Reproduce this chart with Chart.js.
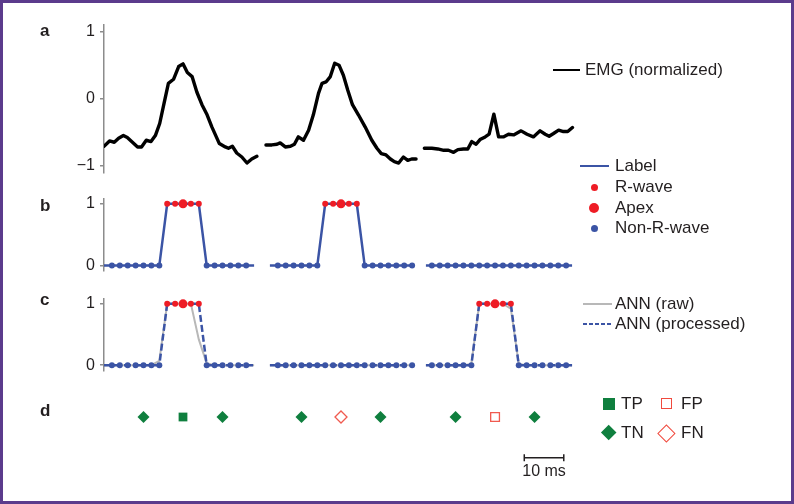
<!DOCTYPE html>
<html>
<head>
<meta charset="utf-8">
<script src="https://cdn.jsdelivr.net/npm/chart.js@4.4.0/dist/chart.umd.min.js"></script>
<style>
body { margin: 0; background: #fff; font-family: "Liberation Sans", Arial, sans-serif; color: #231f20; }
#fig { position: relative; width: 794px; height: 504px; overflow: hidden; background: #fff; }
#marco { position: absolute; left: 0; top: 0; width: 794px; height: 504px; box-sizing: border-box; border: 3px solid #5b3b8c; pointer-events: none; }
canvas { position: absolute; left: 0; }
.pl { position: absolute; left: 40px; font-weight: bold; font-size: 17px; line-height: 20px; }
.lg { position: absolute; font-size: 17px; line-height: 20px; white-space: nowrap; }
.ln { position: absolute; height: 0; }
.pt { position: absolute; border-radius: 50%; }
.sq { position: absolute; box-sizing: border-box; }
</style>
</head>
<body>
<div id="fig">
  <canvas id="panelA" width="794" height="188" style="top:0px"></canvas>
  <canvas id="panelB" width="794" height="106" style="top:180px"></canvas>
  <canvas id="panelC" width="794" height="106" style="top:280px"></canvas>
  <canvas id="panelD" width="794" height="110" style="top:380px"></canvas>

  <div class="pl" style="top:21px">a</div>
  <div class="pl" style="top:196px">b</div>
  <div class="pl" style="top:290px">c</div>
  <div class="pl" style="top:401px">d</div>

  <!-- leyendas -->
  <div class="ln" style="left:553px;width:27px;top:69px;border-top:2px solid #000"></div>
  <div class="lg" style="left:585px;top:60px">EMG (normalized)</div>

  <div class="ln" style="left:580px;width:29px;top:165px;border-top:2px solid #3b54a5"></div>
  <div class="lg" style="left:615px;top:156px">Label</div>
  <div class="pt" style="left:590.5px;top:183.5px;width:7px;height:7px;background:#ee1c25"></div>
  <div class="lg" style="left:615px;top:177px">R-wave</div>
  <div class="pt" style="left:589px;top:203px;width:10px;height:10px;background:#ee1c25"></div>
  <div class="lg" style="left:615px;top:198px">Apex</div>
  <div class="pt" style="left:590.5px;top:224.5px;width:7px;height:7px;background:#3b54a5"></div>
  <div class="lg" style="left:615px;top:218px">Non-R-wave</div>

  <div class="ln" style="left:583px;width:29px;top:303px;border-top:2px solid #b8b8b8"></div>
  <div class="lg" style="left:615px;top:294px">ANN (raw)</div>
  <div class="ln" style="left:583px;width:29px;top:323px;height:2px;background:repeating-linear-gradient(to right,#3b54a5 0 4px,transparent 4px 6px)"></div>
  <div class="lg" style="left:615px;top:314px">ANN (processed)</div>

  <div class="sq" style="left:603px;top:398px;width:12px;height:12px;background:#0f7f3e"></div>
  <div class="lg" style="left:621px;top:394px">TP</div>
  <div class="sq" style="left:661px;top:398px;width:11px;height:11px;border:1.5px solid #f04a3e"></div>
  <div class="lg" style="left:681px;top:394px">FP</div>
  <div class="sq" style="left:603.3px;top:426.8px;width:11.4px;height:11.4px;background:#0f7f3e;transform:rotate(45deg)"></div>
  <div class="lg" style="left:621px;top:423px">TN</div>
  <div class="sq" style="left:659.6px;top:426.6px;width:12.8px;height:12.8px;border:1.5px solid #f04a3e;transform:rotate(45deg)"></div>
  <div class="lg" style="left:681px;top:423px">FN</div>

  <div id="marco"></div>
</div>

<script>
// tiempo en ms, tres ventanas separadas
var X_MIN = -2, X_MAX = 118;

// a: EMG normalizado
var emgT1 = [-2, -0.6, 0.6, 1.7, 2.9, 3.9, 5.2, 6.5, 7.5, 8.7, 9.9, 11.0, 12.1, 13.2, 14.3, 15.6, 16.9, 18.0, 19.1, 20.3, 21.5, 22.8, 24.1, 25.3, 27.2, 28.7, 29.5, 30.5, 31.6, 32.9, 34.2, 35.4, 36.7];
var emgV1 = [-0.71, -0.63, -0.65, -0.59, -0.55, -0.58, -0.65, -0.72, -0.72, -0.62, -0.64, -0.55, -0.37, -0.07, 0.23, 0.29, 0.48, 0.52, 0.39, 0.33, 0.10, -0.09, -0.24, -0.42, -0.67, -0.72, -0.74, -0.71, -0.81, -0.87, -0.96, -0.90, -0.86];
var emgT2 = [39.0, 40.5, 41.8, 42.6, 43.9, 45.2, 46.2, 47.2, 48.5, 49.8, 51.0, 52.3, 53.2, 54.2, 55.3, 56.4, 57.5, 58.6, 59.7, 60.9, 62.4, 64.1, 65.8, 67.1, 68.2, 69.4, 70.5, 71.5, 72.6, 73.8, 74.9, 75.9, 77.0];
var emgV2 = [-0.69, -0.69, -0.68, -0.66, -0.72, -0.71, -0.68, -0.57, -0.62, -0.47, -0.24, 0.08, 0.23, 0.25, 0.33, 0.53, 0.50, 0.35, 0.13, -0.09, -0.24, -0.42, -0.62, -0.74, -0.82, -0.84, -0.90, -0.94, -0.96, -0.87, -0.92, -0.90, -0.90];
var emgT3 = [79.1, 81.0, 82.5, 84.0, 85.2, 86.5, 87.6, 89.0, 90.1, 91.1, 92.2, 93.2, 94.5, 95.5, 96.7, 97.9, 99.1, 100.4, 101.7, 103.6, 105.1, 106.7, 108.4, 109.7, 110.7, 111.8, 113.1, 114.3, 115.4, 116.6];
var emgV3 = [-0.74, -0.74, -0.75, -0.77, -0.77, -0.80, -0.76, -0.75, -0.75, -0.64, -0.68, -0.61, -0.57, -0.53, -0.23, -0.57, -0.57, -0.53, -0.54, -0.48, -0.53, -0.57, -0.48, -0.53, -0.56, -0.52, -0.47, -0.49, -0.49, -0.43];

// muestras (cada 2 ms) de cada ventana
var muestrasT1 = [0, 2, 4, 6, 8, 10, 12, 14, 16, 18, 20, 22, 24, 26, 28, 30, 32, 34];
var muestrasT2 = [42, 44, 46, 48, 50, 52, 54, 56, 58, 60, 62, 64, 66, 68, 70, 72, 74, 76];
var muestrasT3 = [81, 83, 85, 87, 89, 91, 93, 95, 97, 99, 101, 103, 105, 107, 109, 111, 113, 115];
var bordes = [[-2, 36], [40, 76], [79.5, 116.5]];

// b: etiqueta
var label1 = [0, 0, 0, 0, 0, 0, 0, 1, 1, 1, 1, 1, 0, 0, 0, 0, 0, 0];
var label2 = [0, 0, 0, 0, 0, 0, 1, 1, 1, 1, 1, 0, 0, 0, 0, 0, 0, 0];
var label3 = [0, 0, 0, 0, 0, 0, 0, 0, 0, 0, 0, 0, 0, 0, 0, 0, 0, 0];
var apexLabel = [9, 8, -1];

// c: red neuronal
var annRaw1 = [0, 0, 0, 0, 0, 0, 0.07, 1, 1, 1, 1, 0.42, 0.03, 0, 0, 0, 0, 0];
var annRaw2 = [0, 0, 0, 0, 0, 0, 0, 0, 0, 0, 0, 0, 0, 0, 0, 0, 0, 0];
var annRaw3 = [0, 0, 0, 0, 0, 0.02, 1, 1, 1, 1, 0.92, 0.02, 0, 0, 0, 0, 0, 0];
var annProc1 = [0, 0, 0, 0, 0, 0, 0, 1, 1, 1, 1, 1, 0, 0, 0, 0, 0, 0];
var annProc2 = [0, 0, 0, 0, 0, 0, 0, 0, 0, 0, 0, 0, 0, 0, 0, 0, 0, 0];
var annProc3 = [0, 0, 0, 0, 0, 0, 1, 1, 1, 1, 1, 0, 0, 0, 0, 0, 0, 0];
var apexAnn = [9, -1, 8];

// d: resultado
var resultadoT = [8, 18, 28, 48, 58, 68, 87, 97, 107];
var resultadoTipo = ['TN', 'TP', 'TN', 'TN', 'FN', 'TN', 'TN', 'FP', 'TN'];
var barraInicio = 104.4, barraLargo = 10;

var AZUL = '#3b54a5', ROJO = '#ee1c25', GRIS = '#b8b8b8', VERDE = '#0f7f3e', SALMON = '#f05a4f';
var FUENTE = '"Liberation Sans", Arial, sans-serif';

function unirVentanas(listaT, listaV) {
    var datos = [];
    for (var s = 0; s < listaT.length; s++) {
        for (var i = 0; i < listaT[s].length; i++) {
            datos.push({ x: listaT[s][i], y: listaV[s][i] });
        }
        datos.push({ x: listaT[s][listaT[s].length - 1] + 0.5, y: null });
    }
    return datos;
}

function armarMuestras(listaV, apices) {
    var tiempos = [muestrasT1, muestrasT2, muestrasT3];
    var datos = [];
    for (var s = 0; s < 3; s++) {
        var v = listaV[s];
        datos.push({ x: bordes[s][0], y: v[0], tipo: 'borde' });
        for (var i = 0; i < v.length; i++) {
            var tipo = i === apices[s] ? 'apex' : (v[i] >= 0.5 ? 'r' : 'n');
            datos.push({ x: tiempos[s][i], y: v[i], tipo: tipo });
        }
        datos.push({ x: bordes[s][1], y: v[v.length - 1], tipo: 'borde' });
        datos.push({ x: bordes[s][1] + 0.5, y: null });
    }
    return datos;
}

function radioPunto(ctx) {
    var k = ctx.raw && ctx.raw.tipo;
    if (k === 'apex') return 4.5;
    if (k === 'r' || k === 'n') return 3;
    return 0;
}

function colorPunto(ctx) {
    var k = ctx.raw && ctx.raw.tipo;
    return (k === 'apex' || k === 'r') ? ROJO : AZUL;
}

// el eje y ocupa 104 px para que x quede alineado en todos los paneles
function opcionesPanel(yMin, yMax, yTicks, padTop, padBottom) {
    return {
        responsive: false,
        animation: false,
        layout: { padding: { left: 0, right: 216, top: padTop, bottom: padBottom } },
        plugins: { legend: { display: false }, tooltip: { enabled: false } },
        scales: {
            x: { type: 'linear', min: X_MIN, max: X_MAX, display: false },
            y: {
                min: yMin, max: yMax,
                afterFit: function (s) { s.width = 104; },
                afterBuildTicks: function (s) { s.ticks = yTicks.map(function (v) { return { value: v }; }); },
                grid: { drawOnChartArea: false, drawTicks: true, tickLength: 4, color: '#8c8c8c', lineWidth: 1.5 },
                border: { color: '#8c8c8c', width: 1.5 },
                ticks: {
                    padding: 5, color: '#231f20',
                    font: { family: FUENTE, size: 16 },
                    callback: function (v) { return v < 0 ? '\u2212' + Math.abs(v) : String(v); }
                }
            }
        }
    };
}

// panel a
new Chart(document.getElementById('panelA'), {
    type: 'line',
    data: {
        datasets: [{
            data: unirVentanas([emgT1, emgT2, emgT3], [emgV1, emgV2, emgV3]),
            borderColor: '#000', borderWidth: 3.4, pointRadius: 0,
            borderJoinStyle: 'round', borderCapStyle: 'round',
            spanGaps: false, tension: 0
        }]
    },
    options: opcionesPanel(-1.1, 1.1, [-1, 0, 1], 25, 15.6)
});

// panel b
new Chart(document.getElementById('panelB'), {
    type: 'line',
    data: {
        datasets: [{
            data: armarMuestras([label1, label2, label3], apexLabel),
            borderColor: AZUL, borderWidth: 2.5,
            pointRadius: radioPunto, pointBackgroundColor: colorPunto, pointBorderWidth: 0,
            spanGaps: false, tension: 0
        }]
    },
    options: opcionesPanel(-0.08, 1.09, [0, 1], 18.3, 15.5)
});

// panel c
new Chart(document.getElementById('panelC'), {
    type: 'line',
    data: {
        datasets: [{
            data: armarMuestras([annProc1, annProc2, annProc3], apexAnn),
            borderColor: AZUL, borderWidth: 2.5, borderDash: [7, 3],
            pointRadius: radioPunto, pointBackgroundColor: colorPunto, pointBorderWidth: 0,
            spanGaps: false, tension: 0, order: 1
        }, {
            data: armarMuestras([annRaw1, annRaw2, annRaw3], [-1, -1, -1]),
            borderColor: GRIS, borderWidth: 2, pointRadius: 0,
            spanGaps: false, tension: 0, order: 2
        }]
    },
    options: opcionesPanel(-0.09, 1.09, [0, 1], 18.3, 15.3)
});

// panel d con barra de escala
var barraEscala = {
    id: 'barraEscala',
    afterDraw: function (chart) {
        var ctx = chart.ctx, xs = chart.scales.x;
        var x0 = xs.getPixelForValue(barraInicio), x1 = xs.getPixelForValue(barraInicio + barraLargo);
        var y = 77.7;
        ctx.save();
        ctx.strokeStyle = '#231f20';
        ctx.lineWidth = 1.5;
        ctx.beginPath();
        ctx.moveTo(x0, y); ctx.lineTo(x1, y);
        ctx.moveTo(x0, y - 3.5); ctx.lineTo(x0, y + 3.5);
        ctx.moveTo(x1, y - 3.5); ctx.lineTo(x1, y + 3.5);
        ctx.stroke();
        ctx.fillStyle = '#231f20';
        ctx.font = '16px ' + FUENTE;
        ctx.textAlign = 'center';
        ctx.textBaseline = 'top';
        ctx.fillText('10 ms', (x0 + x1) / 2, y + 6);
        ctx.restore();
    }
};

new Chart(document.getElementById('panelD'), {
    type: 'scatter',
    data: {
        datasets: [{
            data: resultadoT.map(function (t, i) { return { x: t, y: 0.5, tipo: resultadoTipo[i] }; }),
            pointStyle: function (ctx) { var k = ctx.raw.tipo; return (k === 'TP' || k === 'FP') ? 'rect' : 'rectRot'; },
            pointRadius: function (ctx) { var k = ctx.raw.tipo; return (k === 'TP' || k === 'FP') ? 6.2 : 6; },
            pointBackgroundColor: function (ctx) { var k = ctx.raw.tipo; return k.charAt(0) === 'T' ? VERDE : '#fff'; },
            pointBorderColor: function (ctx) { var k = ctx.raw.tipo; return k.charAt(0) === 'T' ? VERDE : SALMON; },
            pointBorderWidth: function (ctx) { return ctx.raw.tipo.charAt(0) === 'T' ? 0 : 1.3; }
        }]
    },
    options: {
        responsive: false,
        animation: false,
        layout: { padding: { left: 104, right: 216, top: 10, bottom: 46 } },
        plugins: { legend: { display: false }, tooltip: { enabled: false } },
        scales: {
            x: { type: 'linear', min: X_MIN, max: X_MAX, display: false },
            y: { min: 0, max: 1, display: false }
        }
    },
    plugins: [barraEscala]
});
</script>
</body>
</html>
